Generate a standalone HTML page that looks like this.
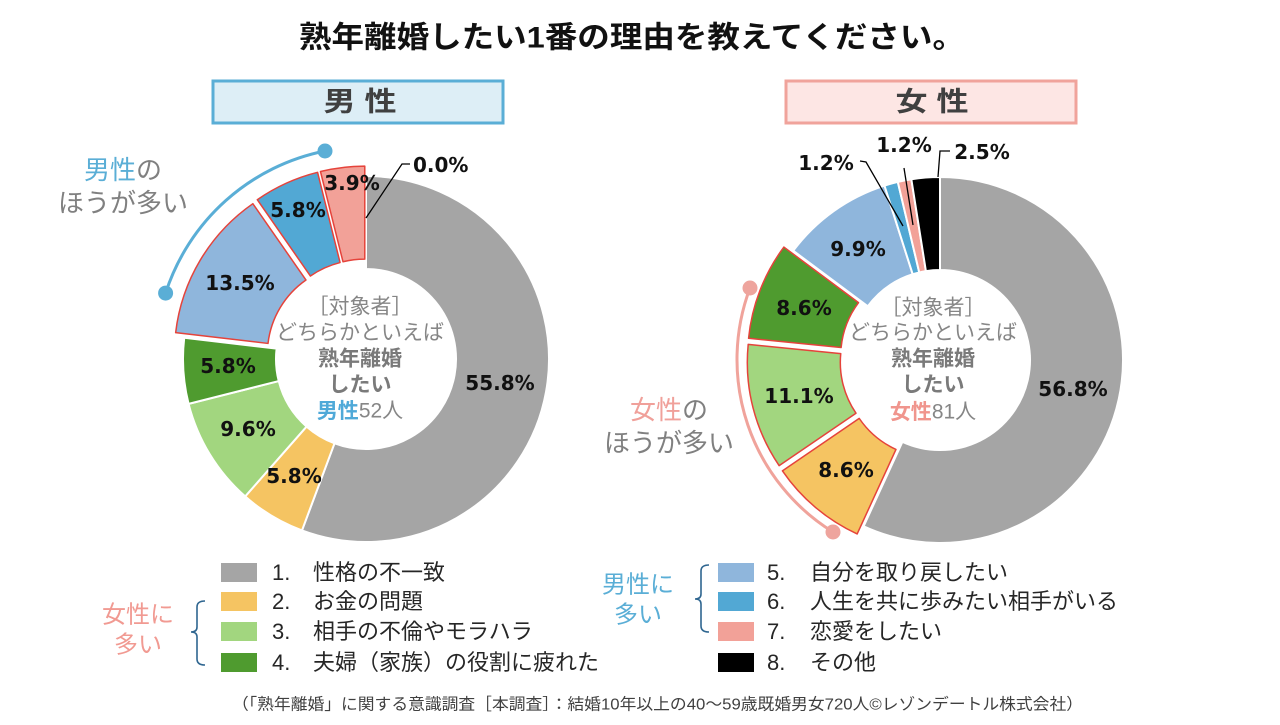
<!DOCTYPE html>
<html lang="ja">
<head>
<meta charset="utf-8">
<style>
  html, body { margin:0; padding:0; background:#ffffff; }
  body { width:1280px; height:725px; overflow:hidden; }
  svg { display:block; }
  .jp { font-family: "Liberation Sans", "Noto Sans CJK JP", sans-serif; }
  .pct { font-family: "DejaVu Sans", "Liberation Sans", sans-serif; font-weight:bold; font-size:20px; fill:#111; }
</style>
</head>
<body>
<svg width="1280" height="725" viewBox="0 0 1280 725" xmlns="http://www.w3.org/2000/svg">
  <rect x="0" y="0" width="1280" height="725" fill="#ffffff"/>

  <!-- Title -->
  <text class="jp" x="299" y="38" dominant-baseline="central" font-size="30" font-weight="bold" fill="#111" textLength="666" lengthAdjust="spacingAndGlyphs">熟年離婚したい1番の理由を教えてください。</text>

  <!-- Header boxes -->
  <rect x="213" y="81" width="290" height="42" fill="#ddeef6" stroke="#5aaed6" stroke-width="3"/>
  <text class="jp" x="360" y="102" dominant-baseline="central" text-anchor="middle" font-size="27" font-weight="bold" fill="#404040" textLength="73" lengthAdjust="spacingAndGlyphs">男 性</text>
  <rect x="786" y="81" width="290" height="42" fill="#fde6e4" stroke="#f0a39b" stroke-width="3"/>
  <text class="jp" x="932" y="102" dominant-baseline="central" text-anchor="middle" font-size="27" font-weight="bold" fill="#404040" textLength="73" lengthAdjust="spacingAndGlyphs">女 性</text>

  <!-- ===== MALE DONUT ===== -->
  <g stroke="#ffffff" stroke-width="2" stroke-linejoin="round">
    <path d="M366,176 A183,183 0 1 1 301.97,530.43 L334.51,443.31 A90,90 0 1 0 366,269 Z" fill="#a5a5a5"/>
    <path d="M301.97,530.43 A183,183 0 0 1 245.17,496.43 L306.57,426.59 A90,90 0 0 0 334.51,443.31 Z" fill="#f5c462"/>
    <path d="M245.17,496.43 A183,183 0 0 1 188.58,403.85 L278.74,381.06 A90,90 0 0 0 306.57,426.59 Z" fill="#a2d67f"/>
    <path d="M188.58,403.85 A183,183 0 0 1 184.23,337.81 L276.60,348.58 A90,90 0 0 0 278.74,381.06 Z" fill="#4f9b2f"/>
  </g>
  <g stroke="#e5433b" stroke-width="1.5" stroke-linejoin="round">
    <path transform="translate(-8.58,-5.14)" d="M184.23,337.81 A183,183 0 0 1 261.43,208.83 L314.57,285.15 A90,90 0 0 0 276.60,348.58 Z" fill="#8fb6dc"/>
    <path transform="translate(-4.14,-9.11)" d="M261.43,208.83 A183,183 0 0 1 321.70,181.44 L344.21,271.67 A90,90 0 0 0 314.57,285.15 Z" fill="#52a8d4"/>
    <path transform="translate(-1.22,-9.93)" d="M321.70,181.44 A183,183 0 0 1 366,176 L366,269 A90,90 0 0 0 344.21,271.67 Z" fill="#f2a198"/>
  </g>

  <!-- male labels -->
  <g class="pct" text-anchor="middle">
    <text x="500" y="383" dominant-baseline="central">55.8%</text>
    <text x="294" y="476" dominant-baseline="central">5.8%</text>
    <text x="248" y="429" dominant-baseline="central">9.6%</text>
    <text x="228" y="366" dominant-baseline="central">5.8%</text>
    <text x="240" y="283" dominant-baseline="central">13.5%</text>
    <text x="298" y="210" dominant-baseline="central">5.8%</text>
    <text x="352" y="183" dominant-baseline="central">3.9%</text>
  </g>
  <polyline points="366,218 402,164 410,164" fill="none" stroke="#000" stroke-width="1.3"/>
  <text class="pct" x="413" y="165" dominant-baseline="central">0.0%</text>

  <!-- male center text -->
  <g class="jp" text-anchor="middle" font-size="21" fill="#868686">
    <text x="360" y="307" dominant-baseline="central">［対象者］</text>
    <text x="360" y="333" dominant-baseline="central">どちらかといえば</text>
    <text x="360" y="359" dominant-baseline="central" font-weight="bold" fill="#7a7a7a">熟年離婚</text>
    <text x="360" y="385" dominant-baseline="central" font-weight="bold" fill="#7a7a7a">したい</text>
    <text x="360" y="411" dominant-baseline="central"><tspan font-weight="bold" fill="#4fa9d8">男性</tspan>52人</text>
  </g>

  <!-- male arc annotation -->
  <path d="M165.6,293.1 A211,211 0 0 1 325,151" fill="none" stroke="#5aaed6" stroke-width="3"/>
  <circle cx="165.6" cy="293.1" r="7.5" fill="#5aaed6"/>
  <circle cx="325" cy="151" r="7.5" fill="#5aaed6"/>
  <g class="jp" text-anchor="middle" font-size="26" fill="#808080">
    <text x="123" y="170" dominant-baseline="central"><tspan fill="#5aaed6">男性</tspan>の</text>
    <text x="123" y="203" dominant-baseline="central">ほうが多い</text>
  </g>

  <!-- ===== FEMALE DONUT ===== -->
  <g stroke="#ffffff" stroke-width="2" stroke-linejoin="round">
    <path d="M940,177 A183,183 0 1 1 863.60,526.29 L902.42,441.78 A90,90 0 1 0 940,270 Z" fill="#a5a5a5"/>
    <path d="M793.22,250.71 A183,183 0 0 1 884.48,185.62 L912.69,274.24 A90,90 0 0 0 867.81,306.25 Z" fill="#8fb6dc"/>
    <path d="M884.48,185.62 A183,183 0 0 1 897.80,181.92 L919.25,272.42 A90,90 0 0 0 912.69,274.24 Z" fill="#52a8d4"/>
    <path d="M897.80,181.92 A183,183 0 0 1 911.34,179.25 L925.91,271.11 A90,90 0 0 0 919.25,272.42 Z" fill="#f2a198"/>
    <path d="M911.34,179.25 A183,183 0 0 1 940,177 L940,270 A90,90 0 0 0 925.91,271.11 Z" fill="#000000"/>
  </g>
  <g stroke="#e5433b" stroke-width="1.5" stroke-linejoin="round">
    <path transform="translate(-6.45,7.64)" d="M863.60,526.29 A183,183 0 0 1 788.86,463.18 L865.67,410.74 A90,90 0 0 0 902.42,441.78 Z" fill="#f5c462"/>
    <path transform="translate(-9.69,2.47)" d="M788.86,463.18 A183,183 0 0 1 757.90,341.90 L850.44,351.10 A90,90 0 0 0 865.67,410.74 Z" fill="#a2d67f"/>
    <path transform="translate(-9.33,-3.61)" d="M757.90,341.90 A183,183 0 0 1 793.22,250.71 L867.81,306.25 A90,90 0 0 0 850.44,351.10 Z" fill="#4f9b2f"/>
  </g>

  <!-- female labels -->
  <g class="pct" text-anchor="middle">
    <text x="1073" y="389" dominant-baseline="central">56.8%</text>
    <text x="846" y="470" dominant-baseline="central">8.6%</text>
    <text x="799" y="396" dominant-baseline="central">11.1%</text>
    <text x="804" y="308" dominant-baseline="central">8.6%</text>
    <text x="858" y="249" dominant-baseline="central">9.9%</text>
  </g>
  <polyline points="860,161 866,162 903,226" fill="none" stroke="#000" stroke-width="1.3"/>
  <polyline points="904,168 913,225" fill="none" stroke="#000" stroke-width="1.3"/>
  <polyline points="950,151 940,151 938,177" fill="none" stroke="#000" stroke-width="1.3"/>
  <text class="pct" x="826" y="163" text-anchor="middle" dominant-baseline="central">1.2%</text>
  <text class="pct" x="904" y="145" text-anchor="middle" dominant-baseline="central">1.2%</text>
  <text class="pct" x="982" y="152" text-anchor="middle" dominant-baseline="central">2.5%</text>

  <!-- female center text -->
  <g class="jp" text-anchor="middle" font-size="21" fill="#868686">
    <text x="933" y="308" dominant-baseline="central">［対象者］</text>
    <text x="933" y="333" dominant-baseline="central">どちらかといえば</text>
    <text x="933" y="359" dominant-baseline="central" font-weight="bold" fill="#7a7a7a">熟年離婚</text>
    <text x="933" y="385" dominant-baseline="central" font-weight="bold" fill="#7a7a7a">したい</text>
    <text x="933" y="412" dominant-baseline="central"><tspan font-weight="bold" fill="#f0958d">女性</tspan>81人</text>
  </g>

  <!-- female arc annotation -->
  <path d="M750,288 A203,203 0 0 0 833,532" fill="none" stroke="#f0a39b" stroke-width="3"/>
  <circle cx="750" cy="288" r="7.5" fill="#eea49d"/>
  <circle cx="833" cy="532" r="7.5" fill="#eea49d"/>
  <g class="jp" text-anchor="middle" font-size="26" fill="#808080">
    <text x="669" y="410" dominant-baseline="central"><tspan fill="#f0a09a">女性</tspan>の</text>
    <text x="669" y="443" dominant-baseline="central">ほうが多い</text>
  </g>

  <!-- ===== LEGEND LEFT ===== -->
  <rect x="221" y="563" width="36" height="19" fill="#a5a5a5"/>
  <rect x="221" y="592" width="36" height="19" fill="#f5c462"/>
  <rect x="221" y="622" width="36" height="19" fill="#a2d67f"/>
  <rect x="221" y="653" width="36" height="19" fill="#4f9b2f"/>
  <g class="jp" font-size="22" fill="#262626">
    <text x="272" y="572.5" dominant-baseline="central">1.</text>
    <text x="272" y="601.5" dominant-baseline="central">2.</text>
    <text x="272" y="631.5" dominant-baseline="central">3.</text>
    <text x="272" y="662.5" dominant-baseline="central">4.</text>
    <text x="313" y="572.5" dominant-baseline="central">性格の不一致</text>
    <text x="313" y="601.5" dominant-baseline="central">お金の問題</text>
    <text x="313" y="631.5" dominant-baseline="central">相手の不倫やモラハラ</text>
    <text x="313" y="662.5" dominant-baseline="central">夫婦（家族）の役割に疲れた</text>
  </g>
  <path d="M205,601 Q197,601 197,607 L197,627 Q197,632 191,632 Q197,632 197,637 L197,659 Q197,665 205,665" fill="none" stroke="#2f6690" stroke-width="1.6"/>
  <g class="jp" text-anchor="middle" font-size="24" fill="#f19a92">
    <text x="138" y="615" dominant-baseline="central">女性に</text>
    <text x="138" y="645" dominant-baseline="central">多い</text>
  </g>

  <!-- ===== LEGEND RIGHT ===== -->
  <rect x="718" y="563" width="36" height="19" fill="#8fb6dc"/>
  <rect x="718" y="592" width="36" height="19" fill="#52a8d4"/>
  <rect x="718" y="622" width="36" height="19" fill="#f2a198"/>
  <rect x="718" y="653" width="36" height="19" fill="#000000"/>
  <g class="jp" font-size="22" fill="#262626">
    <text x="767" y="572.5" dominant-baseline="central">5.</text>
    <text x="767" y="601.5" dominant-baseline="central">6.</text>
    <text x="767" y="631.5" dominant-baseline="central">7.</text>
    <text x="767" y="662.5" dominant-baseline="central">8.</text>
    <text x="810" y="572.5" dominant-baseline="central">自分を取り戻したい</text>
    <text x="810" y="601.5" dominant-baseline="central">人生を共に歩みたい相手がいる</text>
    <text x="810" y="631.5" dominant-baseline="central">恋愛をしたい</text>
    <text x="810" y="662.5" dominant-baseline="central">その他</text>
  </g>
  <path d="M709,565 Q701,565 701,571 L701,594 Q701,599 695,599 Q701,599 701,604 L701,626 Q701,632 709,632" fill="none" stroke="#2f6690" stroke-width="1.6"/>
  <g class="jp" text-anchor="middle" font-size="24" fill="#5aaed6">
    <text x="638" y="585" dominant-baseline="central">男性に</text>
    <text x="638" y="615" dominant-baseline="central">多い</text>
  </g>

  <!-- Footnote -->
  <text class="jp" x="232" y="705" dominant-baseline="central" font-size="16" fill="#404040" textLength="851" lengthAdjust="spacingAndGlyphs">（「熟年離婚」に関する意識調査［本調査］：結婚10年以上の40～59歳既婚男女720人©レゾンデートル株式会社）</text>
</svg>
</body>
</html>
